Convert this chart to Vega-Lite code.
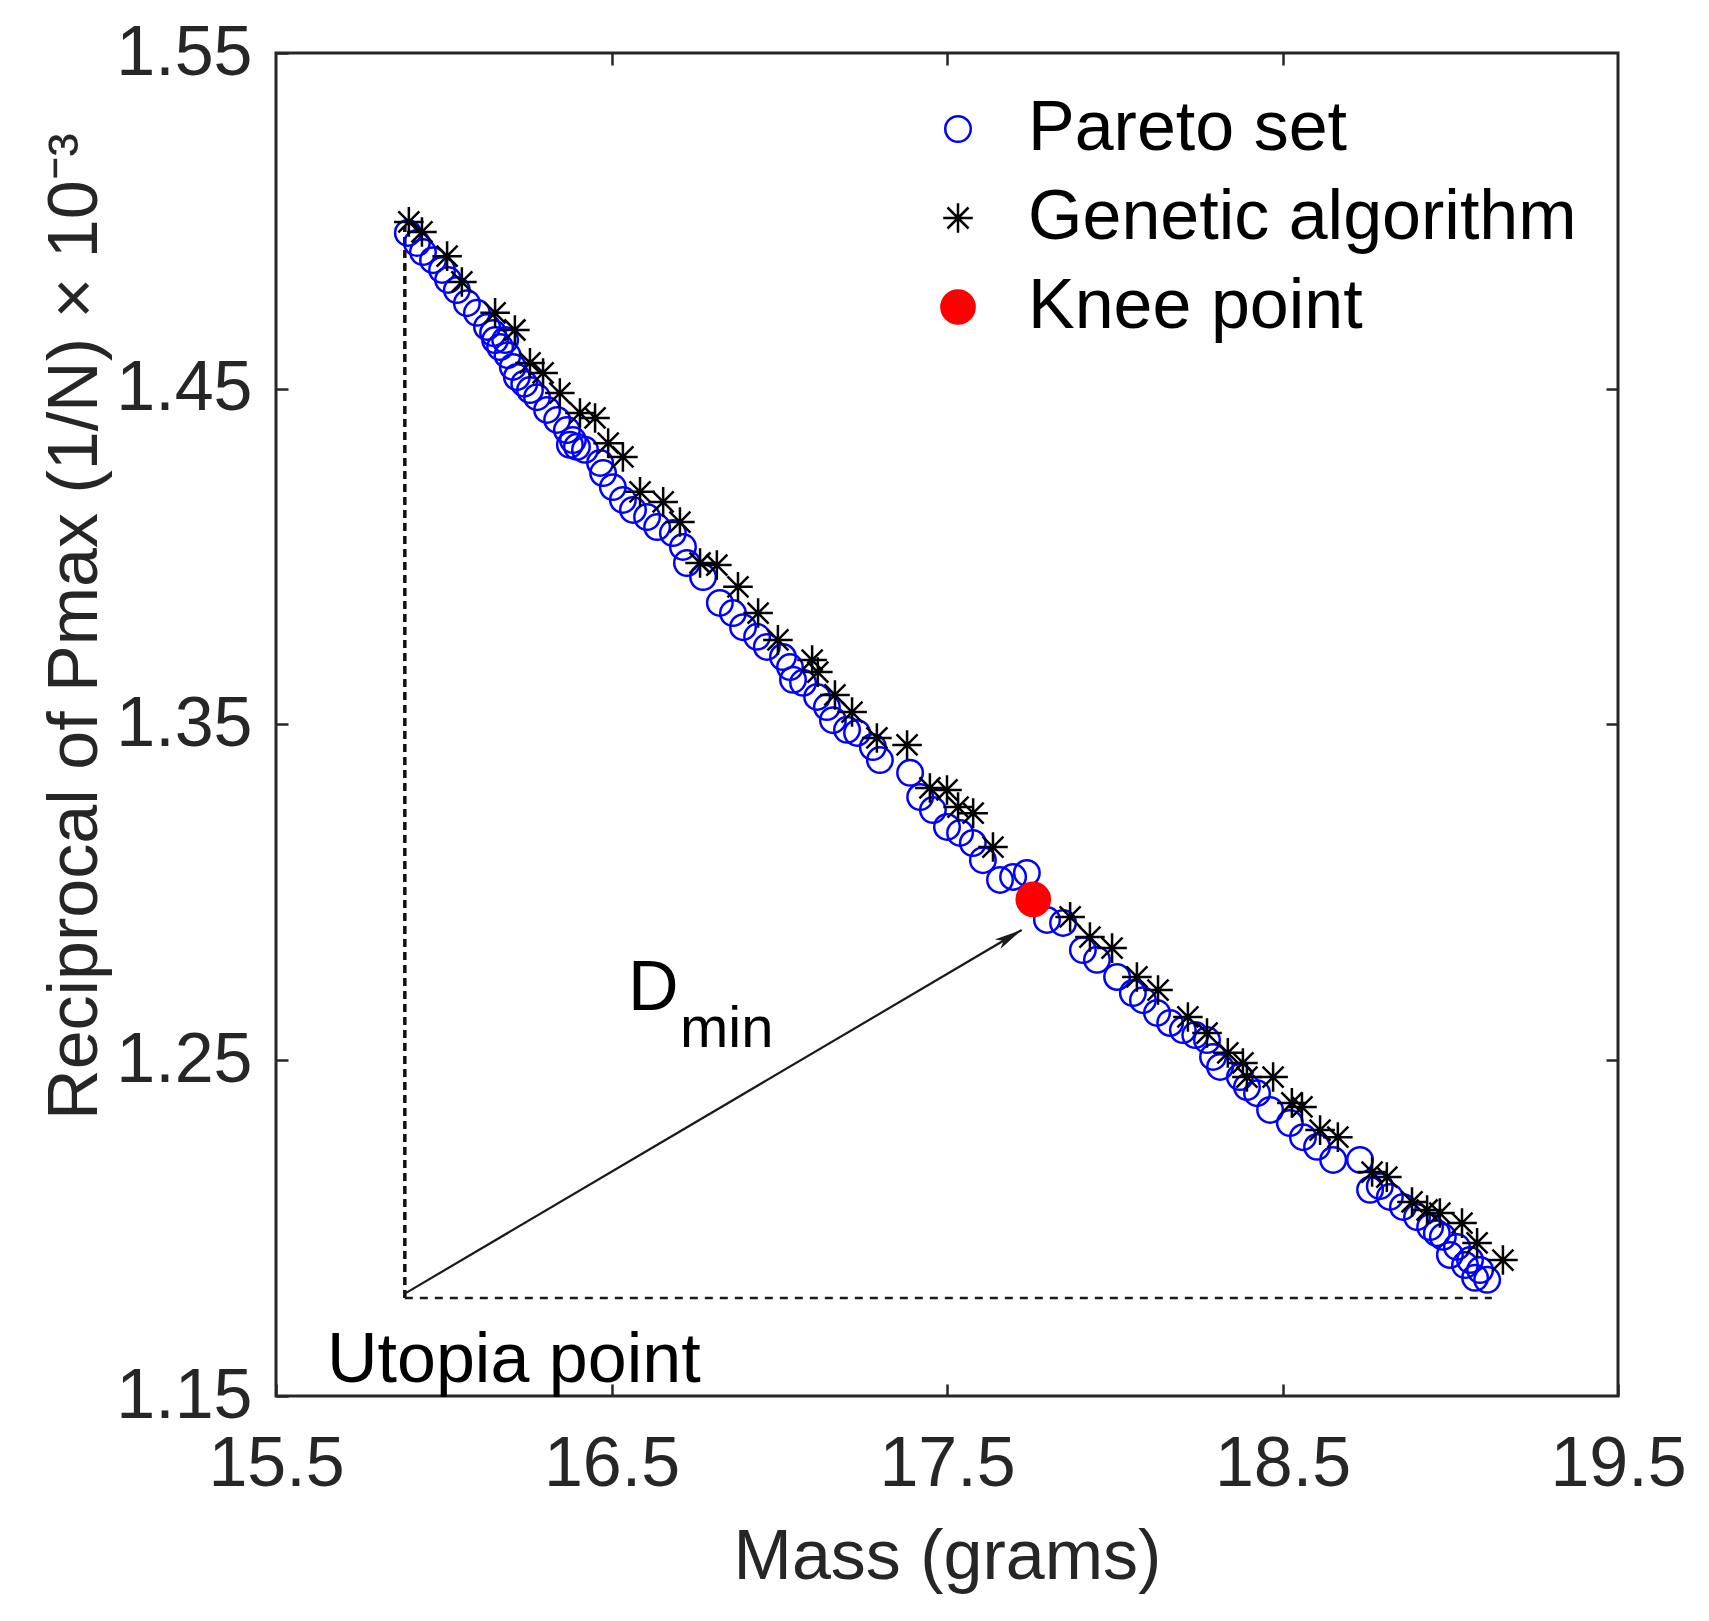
{
  "$schema": "https://vega.github.io/schema/vega-lite/v6.json",
  "width": 1342,
  "height": 1343,
  "autosize": {"type": "none"},
  "padding": {"left": 276, "top": 53, "right": 91, "bottom": 225},
  "background": "white",
  "config": {
    "font": "Liberation Sans",
    "view": {"stroke": "#262626", "strokeWidth": 3},
    "axis": {
      "domain": false,
      "labelFont": "Liberation Sans",
      "labelFontSize": 70,
      "labelColor": "#262626",
      "titleFont": "Liberation Sans",
      "titleFontSize": 70,
      "titleFontWeight": "normal",
      "titleColor": "#262626",
      "gridColor": "#dcdcdc",
      "gridWidth": 2,
      "tickColor": "#262626",
      "tickWidth": 2.5,
      "tickSize": -12
    },
    "legend": {
      "title": null,
      "orient": "none",
      "legendX": 647,
      "legendY": 41,
      "padding": 0,
      "labelFont": "Liberation Sans",
      "labelFontSize": 70,
      "labelColor": "#000000",
      "labelOffset": 35,
      "rowPadding": 19,
      "symbolStrokeWidth": 2.5,
      "labelLimit": 1000
    }
  },
  "datasets": {
    "points": [
      {"series": "Pareto set", "mass": 15.893, "recip": 1.4964},
      {"series": "Pareto set", "mass": 15.920, "recip": 1.4934},
      {"series": "Pareto set", "mass": 15.938, "recip": 1.4907},
      {"series": "Pareto set", "mass": 15.968, "recip": 1.4883},
      {"series": "Pareto set", "mass": 15.995, "recip": 1.4854},
      {"series": "Pareto set", "mass": 16.013, "recip": 1.4824},
      {"series": "Pareto set", "mass": 16.039, "recip": 1.4794},
      {"series": "Pareto set", "mass": 16.069, "recip": 1.4755},
      {"series": "Pareto set", "mass": 16.099, "recip": 1.4726},
      {"series": "Pareto set", "mass": 16.129, "recip": 1.4684},
      {"series": "Pareto set", "mass": 16.147, "recip": 1.4666},
      {"series": "Pareto set", "mass": 16.153, "recip": 1.4645},
      {"series": "Pareto set", "mass": 16.168, "recip": 1.4624},
      {"series": "Pareto set", "mass": 16.183, "recip": 1.4645},
      {"series": "Pareto set", "mass": 16.190, "recip": 1.4600},
      {"series": "Pareto set", "mass": 16.206, "recip": 1.4565},
      {"series": "Pareto set", "mass": 16.218, "recip": 1.4535},
      {"series": "Pareto set", "mass": 16.240, "recip": 1.4515},
      {"series": "Pareto set", "mass": 16.257, "recip": 1.4496},
      {"series": "Pareto set", "mass": 16.278, "recip": 1.4475},
      {"series": "Pareto set", "mass": 16.308, "recip": 1.4437},
      {"series": "Pareto set", "mass": 16.338, "recip": 1.4407},
      {"series": "Pareto set", "mass": 16.367, "recip": 1.4377},
      {"series": "Pareto set", "mass": 16.376, "recip": 1.4333},
      {"series": "Pareto set", "mass": 16.385, "recip": 1.4347},
      {"series": "Pareto set", "mass": 16.397, "recip": 1.4327},
      {"series": "Pareto set", "mass": 16.421, "recip": 1.4318},
      {"series": "Pareto set", "mass": 16.466, "recip": 1.4279},
      {"series": "Pareto set", "mass": 16.475, "recip": 1.4249},
      {"series": "Pareto set", "mass": 16.504, "recip": 1.4207},
      {"series": "Pareto set", "mass": 16.534, "recip": 1.4169},
      {"series": "Pareto set", "mass": 16.564, "recip": 1.4139},
      {"series": "Pareto set", "mass": 16.606, "recip": 1.4118},
      {"series": "Pareto set", "mass": 16.636, "recip": 1.4088},
      {"series": "Pareto set", "mass": 16.683, "recip": 1.4070},
      {"series": "Pareto set", "mass": 16.713, "recip": 1.4029},
      {"series": "Pareto set", "mass": 16.725, "recip": 1.3981},
      {"series": "Pareto set", "mass": 16.773, "recip": 1.3939},
      {"series": "Pareto set", "mass": 16.823, "recip": 1.3862},
      {"series": "Pareto set", "mass": 16.862, "recip": 1.3832},
      {"series": "Pareto set", "mass": 16.892, "recip": 1.3790},
      {"series": "Pareto set", "mass": 16.934, "recip": 1.3761},
      {"series": "Pareto set", "mass": 16.963, "recip": 1.3731},
      {"series": "Pareto set", "mass": 17.011, "recip": 1.3701},
      {"series": "Pareto set", "mass": 17.032, "recip": 1.3671},
      {"series": "Pareto set", "mass": 17.041, "recip": 1.3633},
      {"series": "Pareto set", "mass": 17.071, "recip": 1.3624},
      {"series": "Pareto set", "mass": 17.113, "recip": 1.3582},
      {"series": "Pareto set", "mass": 17.142, "recip": 1.3552},
      {"series": "Pareto set", "mass": 17.160, "recip": 1.3513},
      {"series": "Pareto set", "mass": 17.202, "recip": 1.3484},
      {"series": "Pareto set", "mass": 17.232, "recip": 1.3475},
      {"series": "Pareto set", "mass": 17.279, "recip": 1.3433},
      {"series": "Pareto set", "mass": 17.300, "recip": 1.3394},
      {"series": "Pareto set", "mass": 17.390, "recip": 1.3356},
      {"series": "Pareto set", "mass": 17.420, "recip": 1.3284},
      {"series": "Pareto set", "mass": 17.458, "recip": 1.3245},
      {"series": "Pareto set", "mass": 17.500, "recip": 1.3195},
      {"series": "Pareto set", "mass": 17.539, "recip": 1.3177},
      {"series": "Pareto set", "mass": 17.577, "recip": 1.3147},
      {"series": "Pareto set", "mass": 17.607, "recip": 1.3096},
      {"series": "Pareto set", "mass": 17.658, "recip": 1.3037},
      {"series": "Pareto set", "mass": 17.697, "recip": 1.3046},
      {"series": "Pareto set", "mass": 17.738, "recip": 1.3058},
      {"series": "Pareto set", "mass": 17.798, "recip": 1.2918},
      {"series": "Pareto set", "mass": 17.846, "recip": 1.2909},
      {"series": "Pareto set", "mass": 17.905, "recip": 1.2828},
      {"series": "Pareto set", "mass": 17.947, "recip": 1.2799},
      {"series": "Pareto set", "mass": 18.007, "recip": 1.2748},
      {"series": "Pareto set", "mass": 18.054, "recip": 1.2700},
      {"series": "Pareto set", "mass": 18.084, "recip": 1.2679},
      {"series": "Pareto set", "mass": 18.126, "recip": 1.2641},
      {"series": "Pareto set", "mass": 18.165, "recip": 1.2611},
      {"series": "Pareto set", "mass": 18.203, "recip": 1.2590},
      {"series": "Pareto set", "mass": 18.240, "recip": 1.2575},
      {"series": "Pareto set", "mass": 18.275, "recip": 1.2560},
      {"series": "Pareto set", "mass": 18.293, "recip": 1.2510},
      {"series": "Pareto set", "mass": 18.314, "recip": 1.2480},
      {"series": "Pareto set", "mass": 18.373, "recip": 1.2450},
      {"series": "Pareto set", "mass": 18.394, "recip": 1.2420},
      {"series": "Pareto set", "mass": 18.424, "recip": 1.2402},
      {"series": "Pareto set", "mass": 18.463, "recip": 1.2352},
      {"series": "Pareto set", "mass": 18.522, "recip": 1.2313},
      {"series": "Pareto set", "mass": 18.561, "recip": 1.2271},
      {"series": "Pareto set", "mass": 18.603, "recip": 1.2242},
      {"series": "Pareto set", "mass": 18.651, "recip": 1.2203},
      {"series": "Pareto set", "mass": 18.731, "recip": 1.2203},
      {"series": "Pareto set", "mass": 18.761, "recip": 1.2114},
      {"series": "Pareto set", "mass": 18.790, "recip": 1.2125},
      {"series": "Pareto set", "mass": 18.820, "recip": 1.2093},
      {"series": "Pareto set", "mass": 18.859, "recip": 1.2063},
      {"series": "Pareto set", "mass": 18.901, "recip": 1.2033},
      {"series": "Pareto set", "mass": 18.940, "recip": 1.2003},
      {"series": "Pareto set", "mass": 18.960, "recip": 1.1985},
      {"series": "Pareto set", "mass": 18.978, "recip": 1.1974},
      {"series": "Pareto set", "mass": 18.999, "recip": 1.1920},
      {"series": "Pareto set", "mass": 19.020, "recip": 1.1944},
      {"series": "Pareto set", "mass": 19.044, "recip": 1.1890},
      {"series": "Pareto set", "mass": 19.059, "recip": 1.1905},
      {"series": "Pareto set", "mass": 19.074, "recip": 1.1852},
      {"series": "Pareto set", "mass": 19.089, "recip": 1.1875},
      {"series": "Pareto set", "mass": 19.110, "recip": 1.1846},
      {"series": "Genetic algorithm", "mass": 15.896, "recip": 1.4997},
      {"series": "Genetic algorithm", "mass": 15.935, "recip": 1.4967},
      {"series": "Genetic algorithm", "mass": 16.010, "recip": 1.4895},
      {"series": "Genetic algorithm", "mass": 16.054, "recip": 1.4818},
      {"series": "Genetic algorithm", "mass": 16.153, "recip": 1.4726},
      {"series": "Genetic algorithm", "mass": 16.212, "recip": 1.4675},
      {"series": "Genetic algorithm", "mass": 16.257, "recip": 1.4577},
      {"series": "Genetic algorithm", "mass": 16.296, "recip": 1.4547},
      {"series": "Genetic algorithm", "mass": 16.346, "recip": 1.4487},
      {"series": "Genetic algorithm", "mass": 16.406, "recip": 1.4428},
      {"series": "Genetic algorithm", "mass": 16.451, "recip": 1.4413},
      {"series": "Genetic algorithm", "mass": 16.490, "recip": 1.4338},
      {"series": "Genetic algorithm", "mass": 16.534, "recip": 1.4297},
      {"series": "Genetic algorithm", "mass": 16.585, "recip": 1.4193},
      {"series": "Genetic algorithm", "mass": 16.654, "recip": 1.4163},
      {"series": "Genetic algorithm", "mass": 16.704, "recip": 1.4103},
      {"series": "Genetic algorithm", "mass": 16.764, "recip": 1.3981},
      {"series": "Genetic algorithm", "mass": 16.814, "recip": 1.3975},
      {"series": "Genetic algorithm", "mass": 16.877, "recip": 1.3910},
      {"series": "Genetic algorithm", "mass": 16.937, "recip": 1.3832},
      {"series": "Genetic algorithm", "mass": 16.996, "recip": 1.3752},
      {"series": "Genetic algorithm", "mass": 17.098, "recip": 1.3692},
      {"series": "Genetic algorithm", "mass": 17.115, "recip": 1.3656},
      {"series": "Genetic algorithm", "mass": 17.166, "recip": 1.3588},
      {"series": "Genetic algorithm", "mass": 17.217, "recip": 1.3537},
      {"series": "Genetic algorithm", "mass": 17.291, "recip": 1.3460},
      {"series": "Genetic algorithm", "mass": 17.381, "recip": 1.3439},
      {"series": "Genetic algorithm", "mass": 17.449, "recip": 1.3311},
      {"series": "Genetic algorithm", "mass": 17.500, "recip": 1.3305},
      {"series": "Genetic algorithm", "mass": 17.533, "recip": 1.3254},
      {"series": "Genetic algorithm", "mass": 17.578, "recip": 1.3236},
      {"series": "Genetic algorithm", "mass": 17.637, "recip": 1.3135},
      {"series": "Genetic algorithm", "mass": 17.867, "recip": 1.2927},
      {"series": "Genetic algorithm", "mass": 17.926, "recip": 1.2867},
      {"series": "Genetic algorithm", "mass": 17.992, "recip": 1.2834},
      {"series": "Genetic algorithm", "mass": 18.066, "recip": 1.2748},
      {"series": "Genetic algorithm", "mass": 18.129, "recip": 1.2709},
      {"series": "Genetic algorithm", "mass": 18.218, "recip": 1.2629},
      {"series": "Genetic algorithm", "mass": 18.275, "recip": 1.2581},
      {"series": "Genetic algorithm", "mass": 18.337, "recip": 1.2522},
      {"series": "Genetic algorithm", "mass": 18.382, "recip": 1.2492},
      {"series": "Genetic algorithm", "mass": 18.394, "recip": 1.2450},
      {"series": "Genetic algorithm", "mass": 18.472, "recip": 1.2450},
      {"series": "Genetic algorithm", "mass": 18.528, "recip": 1.2373},
      {"series": "Genetic algorithm", "mass": 18.558, "recip": 1.2361},
      {"series": "Genetic algorithm", "mass": 18.612, "recip": 1.2292},
      {"series": "Genetic algorithm", "mass": 18.665, "recip": 1.2271},
      {"series": "Genetic algorithm", "mass": 18.767, "recip": 1.2167},
      {"series": "Genetic algorithm", "mass": 18.811, "recip": 1.2152},
      {"series": "Genetic algorithm", "mass": 18.886, "recip": 1.2078},
      {"series": "Genetic algorithm", "mass": 18.931, "recip": 1.2054},
      {"series": "Genetic algorithm", "mass": 18.969, "recip": 1.2045},
      {"series": "Genetic algorithm", "mass": 19.035, "recip": 1.2015},
      {"series": "Genetic algorithm", "mass": 19.080, "recip": 1.1956},
      {"series": "Genetic algorithm", "mass": 19.157, "recip": 1.1905},
      {"series": "Knee point", "mass": 17.757, "recip": 1.2979}
    ],
    "vline": [{"x": 15.884, "y": 1.1792, "y2": 1.4985}],
    "hline": [{"x": 15.884, "x2": 19.124, "y": 1.1792}],
    "arrow": [{"x": 15.884, "y": 1.1805, "x2": 17.7226, "y2": 1.2888}],
    "tip": [{"x": 17.7226, "y": 1.2888}],
    "labels": [
      {"x": 15.652, "y": 1.1542, "text": "Utopia point"},
      {"x": 16.549, "y": 1.265, "text": "D"}
    ],
    "sub": [{"x": 16.704, "y": 1.2539, "text": "min"}]
  },
  "layer": [
    {
      "data": {"name": "vline"},
      "mark": {"type": "rule", "color": "#111111", "strokeWidth": 3.5, "strokeDash": [8, 5]},
      "encoding": {
        "x": {
          "field": "x", "type": "quantitative",
          "scale": {"domain": [15.5, 19.5], "nice": false, "zero": false},
          "axis": {"orient": "top", "values": [16.5, 17.5, 18.5], "labels": false, "title": null, "grid": false}
        },
        "y": {
          "field": "y", "type": "quantitative",
          "scale": {"domain": [1.15, 1.55], "nice": false, "zero": false},
          "axis": {"orient": "right", "values": [1.25, 1.35, 1.45], "labels": false, "title": null, "grid": false}
        },
        "y2": {"field": "y2"}
      }
    },
    {
      "data": {"name": "hline"},
      "mark": {"type": "rule", "color": "#1a1a1a", "strokeWidth": 2.5, "strokeDash": [8, 7]},
      "encoding": {
        "x": {"field": "x", "type": "quantitative", "axis": null},
        "x2": {"field": "x2"},
        "y": {"field": "y", "type": "quantitative", "axis": null}
      }
    },
    {
      "data": {"name": "arrow"},
      "mark": {"type": "rule", "color": "#1a1a1a", "strokeWidth": 2.2},
      "encoding": {
        "x": {"field": "x", "type": "quantitative", "axis": null},
        "x2": {"field": "x2"},
        "y": {"field": "y", "type": "quantitative", "axis": null},
        "y2": {"field": "y2"}
      }
    },
    {
      "data": {"name": "tip"},
      "mark": {"type": "point", "shape": "M0,0L-0.4,2L0,1.5L0.4,2Z", "filled": true, "color": "#1a1a1a", "opacity": 1, "size": 784, "angle": 59.4},
      "encoding": {
        "x": {"field": "x", "type": "quantitative", "axis": null},
        "y": {"field": "y", "type": "quantitative", "axis": null}
      }
    },
    {
      "data": {"name": "points"},
      "mark": {"type": "point", "strokeWidth": 2.5, "opacity": 1},
      "encoding": {
        "x": {
          "field": "mass", "type": "quantitative",
          "scale": {"domain": [15.5, 19.5], "nice": false, "zero": false},
          "axis": {
            "orient": "bottom", "values": [15.5, 16.5, 17.5, 18.5, 19.5], "format": ".1f",
            "title": "Mass (grams)", "labelPadding": 46, "labelFlush": false, "labelOverlap": false,
            "titleY": 182, "titleBaseline": "alphabetic"
          }
        },
        "y": {
          "field": "recip", "type": "quantitative",
          "scale": {"domain": [1.15, 1.55], "nice": false, "zero": false},
          "axis": {
            "orient": "left", "values": [1.15, 1.25, 1.35, 1.45, 1.55], "format": ".2f",
            "title": "Reciprocal of Pmax (1/N) × 10⁻³", "labelPadding": 36, "labelFlush": false, "labelOverlap": false,
            "titleX": -180, "titleY": 573, "titleAngle": -90, "titleBaseline": "alphabetic", "titleAlign": "center"
          }
        },
        "shape": {
          "field": "series", "type": "nominal",
          "scale": {"domain": ["Pareto set", "Genetic algorithm", "Knee point"], "range": ["circle", "M0,-1L0,1M-1,0L1,0M-0.71,-0.71L0.71,0.71M-0.71,0.71L0.71,-0.71", "circle"]},
          "legend": {"title": null}
        },
        "stroke": {
          "field": "series", "type": "nominal",
          "scale": {"domain": ["Pareto set", "Genetic algorithm", "Knee point"], "range": ["#0000ff", "#000000", "#ff0000"]},
          "legend": {"title": null}
        },
        "fill": {
          "field": "series", "type": "nominal",
          "scale": {"domain": ["Pareto set", "Genetic algorithm", "Knee point"], "range": ["transparent", "transparent", "#ff0000"]},
          "legend": {"title": null}
        },
        "size": {
          "field": "series", "type": "nominal",
          "scale": {"domain": ["Pareto set", "Genetic algorithm", "Knee point"], "range": [650, 1100, 1450]},
          "legend": {"title": null}
        }
      }
    },
    {
      "data": {"name": "labels"},
      "mark": {"type": "text", "align": "left", "baseline": "alphabetic", "fontSize": 70, "font": "Liberation Sans", "color": "#000000"},
      "encoding": {
        "x": {"field": "x", "type": "quantitative", "axis": null},
        "y": {"field": "y", "type": "quantitative", "axis": null},
        "text": {"field": "text"}
      }
    },
    {
      "data": {"name": "sub"},
      "mark": {"type": "text", "align": "left", "baseline": "alphabetic", "fontSize": 58, "font": "Liberation Sans", "color": "#000000"},
      "encoding": {
        "x": {"field": "x", "type": "quantitative", "axis": null},
        "y": {"field": "y", "type": "quantitative", "axis": null},
        "text": {"field": "text"}
      }
    }
  ],
  "resolve": {"axis": {"x": "independent", "y": "independent"}}
}
